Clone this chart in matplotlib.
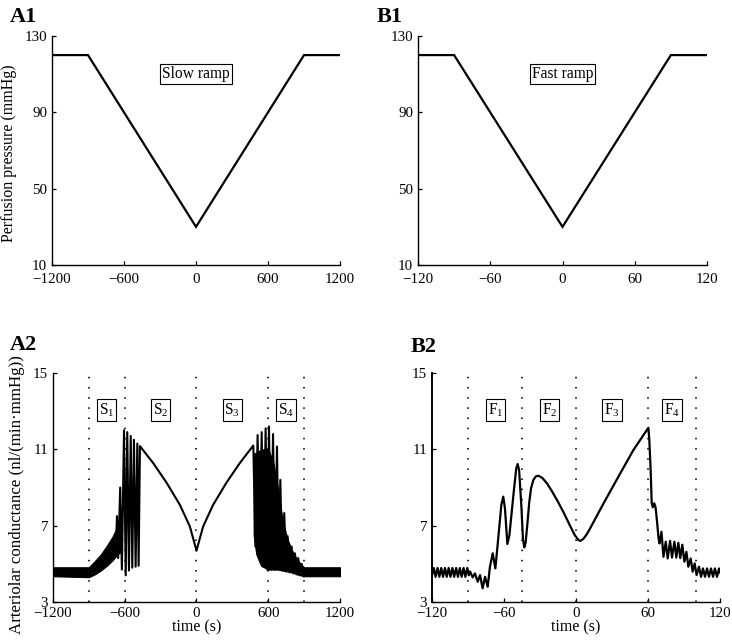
import matplotlib
matplotlib.use("Agg")
import matplotlib.pyplot as plt

plt.rcParams['font.family'] = ['Liberation Serif', 'DejaVu Serif']
plt.rcParams['mathtext.fontset'] = 'custom'
plt.rcParams['mathtext.rm'] = 'Liberation Serif'
plt.rcParams['axes.unicode_minus'] = True

# ---------------- data ----------------
# A1 slow ramp (s, mmHg)
a1_t = [-1200, -900, 0, 900, 1200]
a1_p = [120, 120, 30, 120, 120]
# B1 fast ramp
b1_t = [-120, -90, 0, 90, 120]
b1_p = [120, 120, 30, 120, 120]

a_xticks = [-1200, -600, 0, 600, 1200]
b_xticks = [-120, -60, 0, 60, 120]
p_yticks = [10, 50, 90, 130]
g_yticks = [3, 7, 11, 15]

# A2: dense fast-oscillation bands (lower/upper envelope)
a2_bandL_t = [-1200, -900, -850, -800, -750, -700, -660, -640]
a2_bandL_lo = [4.35, 4.30, 4.45, 4.65, 4.90, 5.20, 5.50, 5.60]
a2_bandL_hi = [4.82, 4.82, 5.15, 5.50, 5.95, 6.45, 7.00, 7.20]

a2_bandR_t = [478, 500, 540, 600, 640, 680, 720, 760, 800, 840, 870, 900, 1200]
a2_bandR_lo = [6.5, 5.5, 4.9, 4.7, 4.7, 4.7, 4.65, 4.6, 4.55, 4.45, 4.4, 4.35, 4.35]
a2_bandR_hi = [10.8, 10.8, 11.0, 11.0, 10.4, 9.0, 7.3, 6.3, 5.7, 5.25, 5.0, 4.82, 4.82]

a2_t = [-675, -665, -655, -638, -624, -606, -592, -579, -565, -550, -537,
        -523, -509, -495, -484, -473,
        -361, -250, -138, -55, 0, 55, 138, 250, 361, 475,
        493, 511, 528, 545, 561, 578, 592, 606, 623, 640, 656, 673, 687,
        701, 717, 734, 748, 762, 779, 796, 810, 823, 837, 851, 865, 879, 895]
a2_g = [5.6, 7.5, 5.3, 9.0, 4.7, 12.0, 4.4, 11.9, 4.65, 11.7, 4.8,
        11.5, 4.85, 11.3, 4.9, 11.17,
        10.27, 9.25, 8.08, 6.95, 5.69, 6.95, 8.08, 9.25, 10.27, 11.2,
        5.9, 11.75, 5.2, 11.9, 4.85, 12.1, 4.7, 12.2, 4.7, 11.8, 4.7, 11.15, 4.7,
        9.4, 4.65, 7.66, 4.6, 6.45, 4.55, 5.9, 4.5, 5.55, 4.45, 5.3, 4.4, 5.0, 4.35]

a2_vlines = [-900, -600, 0, 600, 900]
a2_labels = ['S$_{1}$', 'S$_{2}$', 'S$_{3}$', 'S$_{4}$']
a2_label_t = [-750, -300, 300, 750]

# B2 trace (s, nl/(min*mmHg))
b2_t = [-120.0, -118.5, -117.0, -115.4, -113.9, -112.3, -110.8, -109.2, -107.7,
        -106.1, -104.6, -103.0, -101.5, -99.9, -98.4, -96.8, -95.3, -93.7,
        -92.2, -90.6, -89.3, -88.3, -86.1, -84.2, -81.9, -80.0, -77.8, -75.8,
        -73.6, -71.7, -69.4, -67.2, -65.0, -62.2, -60.6, -59.2, -57.2, -55.5,
        -52.0, -49.8, -48.6, -47.4, -45.5, -44.2, -43.1, -42.0, -40.5, -39.0,
        -37.5, -35.5, -33.5, -31.4, -28.0, -24.0, -20.0, -15.0, -10.0, -5.0,
        -1.0, 2.0, 3.5, 6.0, 9.0, 11.7, 22.8,
        36.7, 47.8, 60.3, 61.1, 62.2, 63.1, 64.0, 65.2, 66.3, 67.4, 68.8, 69.6,
        71.2, 72.9, 74.8, 76.4, 78.4, 80.0, 82.0, 83.6, 85.3, 86.9, 88.6, 90.3,
        92.0, 93.6, 95.6, 97.2, 98.9, 100.5, 102.5, 104.2, 105.8, 107.5, 109.2,
        110.8, 112.5, 114.2, 115.8, 117.5, 119.2, 120.0]
b2_g = [4.40, 4.78, 4.32, 4.78, 4.32, 4.78, 4.32, 4.78, 4.32,
        4.78, 4.32, 4.78, 4.32, 4.78, 4.32, 4.78, 4.32, 4.78,
        4.32, 4.78, 4.40, 4.60, 4.29, 4.50, 4.06, 4.41, 3.72, 4.32,
        3.80, 4.85, 5.55, 4.76, 6.20, 8.10, 8.52, 7.90, 6.04, 6.50,
        8.70, 10.00, 10.23, 9.90, 8.00, 6.30, 5.86, 6.10, 7.10, 8.20,
        8.95, 9.40, 9.58, 9.62, 9.50, 9.20, 8.80, 8.25, 7.65, 7.00,
        6.50, 6.25, 6.20, 6.30, 6.55, 6.85, 8.15,
        9.72, 10.96, 12.13, 11.49, 9.92, 8.17, 7.96, 8.17, 7.96, 7.30, 6.34, 6.07,
        6.68, 5.37, 6.16, 5.28, 6.20, 5.33, 6.16, 5.33, 6.10, 5.30, 6.00, 5.11,
        5.63, 4.85, 5.28, 4.59, 5.02, 4.41, 4.85, 4.32, 4.76, 4.32, 4.76,
        4.32, 4.76, 4.32, 4.76, 4.32, 4.76, 4.55]

b2_vlines = [-90, -45, 0, 60, 100]
b2_labels = ['F$_{1}$', 'F$_{2}$', 'F$_{3}$', 'F$_{4}$']
b2_label_t = [-67, -22, 30, 80]

# ---------------- figure ----------------
W, H = 732, 644
fig = plt.figure(figsize=(W / 100, H / 100), dpi=100)


def add_ax(left, right, top, bottom):
    return fig.add_axes([left / W, 1 - bottom / H, (right - left) / W, (bottom - top) / H])


axA1 = add_ax(52, 340, 36, 265)
axB1 = add_ax(418, 707, 36, 265)
axA2 = add_ax(53, 340, 373, 602)
axB2 = add_ax(432, 720, 373, 602)

FS = 10.8
LW = 1.6


def style(ax, xt, yt, xpad):
    ax.set_xlim(xt[0], xt[-1])
    ax.set_ylim(yt[0], yt[-1])
    ax.set_xticks(xt)
    ax.set_yticks(yt)
    ax.spines['top'].set_visible(False)
    ax.spines['right'].set_visible(False)
    for s in ('left', 'bottom'):
        ax.spines[s].set_linewidth(1.0)
    ax.tick_params(direction='in', length=3, width=0.9, labelsize=FS)
    ax.tick_params(axis='x', pad=xpad)
    ax.tick_params(axis='y', pad=3.5)


box = dict(boxstyle='square,pad=0.12', fc='white', ec='black', lw=0.8)

# A1
axA1.plot(a1_t, a1_p, color='black', lw=LW, solid_joinstyle='miter')
style(axA1, a_xticks, p_yticks, 6)
axA1.text(0, 110, 'Slow ramp', ha='center', va='center', fontsize=11.2, bbox=box)
axA1.set_ylabel('Perfusion pressure (mmHg)', fontsize=11.5)
axA1.yaxis.set_label_coords(-0.12, 0.49)

# B1
axB1.plot(b1_t, b1_p, color='black', lw=LW, solid_joinstyle='miter')
style(axB1, b_xticks, p_yticks, 6)
axB1.text(0, 110, 'Fast ramp', ha='center', va='center', fontsize=11.2, bbox=box)

# A2
for v in a2_vlines:
    axA2.axvline(v, color='black', lw=1.2, linestyle=(0, (0.9, 5.2)), zorder=1)
axA2.fill_between(a2_bandL_t, a2_bandL_lo, a2_bandL_hi, color='black', lw=0.8, zorder=2)
axA2.fill_between(a2_bandR_t, a2_bandR_lo, a2_bandR_hi, color='black', lw=0.8, zorder=2)
axA2.plot(a2_t, a2_g, color='black', lw=1.5, zorder=3)
style(axA2, a_xticks, g_yticks, 3.5)
for lab, t in zip(a2_labels, a2_label_t):
    axA2.text(t, 13.05, lab, ha='center', va='center', fontsize=11.2, bbox=box, zorder=4)
axA2.set_ylabel('Arteriolar conductance (nl/(min·mmHg))', fontsize=12.2)
axA2.yaxis.set_label_coords(-0.097, 0.47)
axA2.set_xlabel('time (s)', fontsize=11.5, labelpad=0)

# B2
for v in b2_vlines:
    axB2.axvline(v, color='black', lw=1.2, linestyle=(0, (0.9, 5.2)), zorder=1)
axB2.plot(b2_t, b2_g, color='black', lw=LW, zorder=3)
style(axB2, b_xticks, g_yticks, 3.5)
axB2.spines['left'].set_linewidth(1.4)
for lab, t in zip(b2_labels, b2_label_t):
    axB2.text(t, 13.05, lab, ha='center', va='center', fontsize=11.2, bbox=box, zorder=4)
axB2.set_xlabel('time (s)', fontsize=11.5, labelpad=0)

# panel labels
for lab, x, y in [('A1', 10, 22), ('B1', 377, 22), ('A2', 10, 350), ('B2', 411, 352)]:
    fig.text(x / W, 1 - y / H, lab, fontsize=16, fontweight='bold', ha='left', va='baseline')

fig.savefig('out.png', dpi=100)
